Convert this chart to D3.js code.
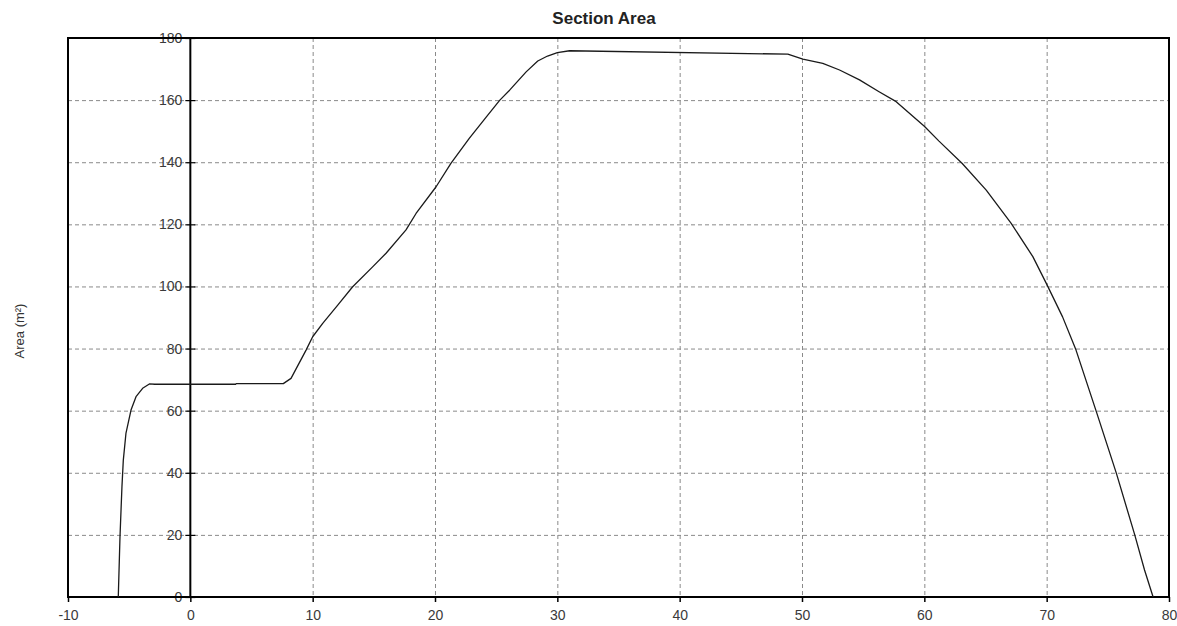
<!DOCTYPE html>
<html>
<head>
<meta charset="utf-8">
<script src="https://cdn.jsdelivr.net/npm/d3@7"></script>
<style>
  html, body { margin: 0; padding: 0; background: #fff; }
  svg { display: block; font-family: "Liberation Sans", Arial, sans-serif; }
</style>
</head>
<body>
<svg id="chart" width="1177" height="626"></svg>
<script>
// ---- data ----
const chainage = [-5.89, -5.75, -5.59, -5.48, -5.26, -4.85, -4.44, -3.9, -3.35, -2.9, 3.7, 3.75, 7.6, 8.23, 9.46, 10.0, 10.82, 12.05, 13.27, 14.9, 16.0, 17.63, 18.45, 20.09, 21.3, 22.8, 24.2, 25.3, 26.1, 27.45, 28.4, 29.2, 30.0, 31.0, 48.84, 50.07, 51.7, 53.07, 54.7, 56.3, 57.7, 60.0, 61.2, 63.1, 65.06, 67.1, 68.87, 69.97, 71.3, 72.4, 74.06, 75.7, 77.2, 78.0, 78.7];
const area = [0, 19.4, 35.5, 44, 52.8, 60.2, 64.5, 67.2, 68.6, 68.5, 68.5, 68.7, 68.7, 70.4, 79.5, 83.8, 88.1, 94, 99.9, 106.3, 110.7, 118.2, 123.5, 132.1, 139.6, 147.7, 154.6, 160, 163.2, 169.1, 172.6, 174.2, 175.3, 175.9, 174.8, 173.2, 171.8, 169.7, 166.5, 162.7, 159.5, 151.6, 146.8, 139.6, 131, 120.3, 109.6, 101, 90.2, 79.5, 59.7, 39.8, 20, 8.7, 0];
const xTicks = [-10, 0, 10, 20, 30, 40, 50, 60, 70, 80];
const yTicks = [0, 20, 40, 60, 80, 100, 120, 140, 160, 180];
const titleText = "Section Area";
const yLabelText = "Area (m²)";

// ---- layout ----
const plotL = 68, plotR = 1169, plotT = 38, plotB = 597;
const svg = d3.select("#chart");
const fontFam = "'Liberation Sans', Arial, sans-serif";

const x = d3.scaleLinear().domain([-10, 80]).range([plotL, plotR]);
const y = d3.scaleLinear().domain([0, 180]).range([plotB, plotT]);

// grid
const grid = svg.append("g").attr("stroke", "#8a8a8a").attr("stroke-width", 1).attr("stroke-dasharray", "4,3");
grid.selectAll("line.v").data(xTicks.filter(d => d !== -10 && d !== 0 && d !== 80)).enter()
  .append("line").attr("class", "v")
  .attr("x1", d => x(d) + 0.5).attr("x2", d => x(d) + 0.5)
  .attr("y1", plotT).attr("y2", plotB);
grid.selectAll("line.h").data(yTicks.filter(d => d !== 0 && d !== 180)).enter()
  .append("line").attr("class", "h")
  .attr("y1", d => y(d) + 0.5).attr("y2", d => y(d) + 0.5)
  .attr("x1", plotL).attr("x2", plotR);

// x axis
const xAxis = svg.append("g").attr("transform", `translate(0,${plotB})`)
  .call(d3.axisBottom(x).tickValues(xTicks).tickFormat(d => String(d)).tickSize(5).tickSizeOuter(0).tickPadding(8));
xAxis.select(".domain").remove();
xAxis.selectAll(".tick line").attr("stroke", "#000").attr("stroke-width", 1.5);
xAxis.selectAll(".tick text").attr("font-size", 14).attr("fill", "#3a3a3a").attr("font-family", fontFam);

// y axis at x = 0
const yAxis = svg.append("g").attr("transform", `translate(${x(0)},0)`)
  .call(d3.axisLeft(y).tickValues(yTicks).tickFormat(d => String(d)).tickSize(5).tickSizeOuter(0).tickPadding(3));
yAxis.select(".domain").remove();
yAxis.selectAll(".tick line").attr("x1", -5).attr("x2", 5).attr("stroke", "#000").attr("stroke-width", 1.2);
yAxis.selectAll(".tick text").attr("font-size", 14).attr("fill", "#3a3a3a").attr("font-family", fontFam);
svg.append("line")
  .attr("x1", x(0)).attr("x2", x(0)).attr("y1", plotT).attr("y2", plotB)
  .attr("stroke", "#000").attr("stroke-width", 2);

// frame
svg.append("rect")
  .attr("x", plotL).attr("y", plotT).attr("width", plotR - plotL).attr("height", plotB - plotT)
  .attr("fill", "none").attr("stroke", "#000").attr("stroke-width", 2);

// curve
const pts = chainage.map((c, i) => [c, area[i]]);
svg.append("path")
  .datum(pts)
  .attr("fill", "none")
  .attr("stroke", "#1a1a1a")
  .attr("stroke-width", 1.3)
  .attr("stroke-linejoin", "round")
  .attr("d", d3.line().x(d => x(d[0])).y(d => y(d[1])));

// title
svg.append("text").attr("x", 604).attr("y", 24).attr("text-anchor", "middle")
  .attr("font-size", 17).attr("font-weight", "bold").attr("fill", "#222").text(titleText);

// y label
svg.append("text").attr("transform", `translate(24,331) rotate(-90)`)
  .attr("text-anchor", "middle").attr("font-size", 13).attr("fill", "#333").text(yLabelText);
</script>
</body>
</html>
